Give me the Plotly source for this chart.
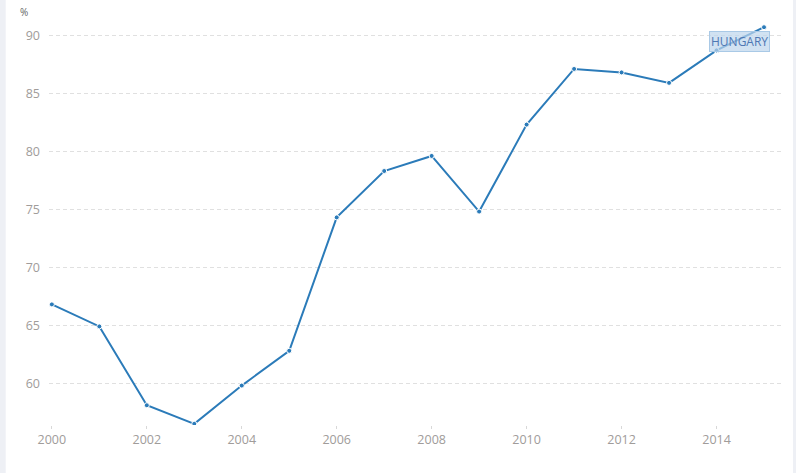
import plotly.graph_objects as go

years = list(range(2000, 2016))
values = [66.8, 64.9, 58.1, 56.5, 59.8, 62.8, 74.3, 78.3, 79.6, 74.8,
          82.3, 87.1, 86.8, 85.9, 88.7, 90.7]
y_ticks = [60, 65, 70, 75, 80, 85, 90]
x_ticks = [2000, 2002, 2004, 2006, 2008, 2010, 2012, 2014]
country = 'HUNGARY'

line_color = '#2b7bb9'
tick_color = '#a09c9a'

fig = go.Figure(go.Scatter(x=years,
                           y=values,
                           mode='lines+markers',
                           line=dict(color=line_color, width=2),
                           marker=dict(size=5, color=line_color,
                                       line=dict(color='white', width=1)),
                           hoverinfo='x+y'))

fig.update_layout(width=796, height=473,
                  margin=dict(l=49, r=13, t=20, b=48),
                  paper_bgcolor='white',
                  plot_bgcolor='white',
                  showlegend=False,
                  font=dict(family='Open Sans', size=12, color=tick_color),
                  xaxis=dict(range=[1999.94, 2015.4],
                             tickvals=x_ticks,
                             showgrid=False,
                             zeroline=False,
                             showline=False,
                             ticks='outside',
                             ticklen=3,
                             tickcolor='#d8d8d8',
                             tickfont=dict(color=tick_color, size=12.5)),
                  yaxis=dict(range=[56.4, 91.32],
                             tickvals=y_ticks,
                             showgrid=True,
                             gridcolor='#e0e0e0',
                             griddash='4px,3px',
                             gridwidth=1,
                             zeroline=False,
                             showline=False,
                             ticks='',
                             ticklabelstandoff=8,
                             tickfont=dict(color=tick_color, size=12.5)),
                  annotations=[dict(text='%', xref='paper', yref='paper',
                                    x=-0.042, y=1.02, xanchor='left', yanchor='middle',
                                    showarrow=False,
                                    font=dict(size=10, color='#666666')),
                               dict(text=country, x=2014.49, y=89.45,
                                    xanchor='center', yanchor='middle',
                                    showarrow=False,
                                    bgcolor='rgba(190,214,236,0.7)',
                                    bordercolor='#a9c9e6', borderwidth=1,
                                    borderpad=1,
                                    font=dict(size=12, color='#4f78b4'))],
                  shapes=[dict(type='rect', xref='paper', yref='paper',
                               x0=-0.0668, x1=-0.059, y0=-0.2, y1=1.1,
                               fillcolor='#eef0f5', line=dict(width=0), layer='below'),
                          dict(type='rect', xref='paper', yref='paper',
                               x0=1.0136, x1=1.02, y0=-0.2, y1=1.1,
                               fillcolor='#eef0f5', line=dict(width=0), layer='below')])

# pas de marge autour de la page, la figure occupe toute la fenêtre
fig.write_html('out.html', config={'displayModeBar': False},
               post_script="document.body.style.margin='0px';")
